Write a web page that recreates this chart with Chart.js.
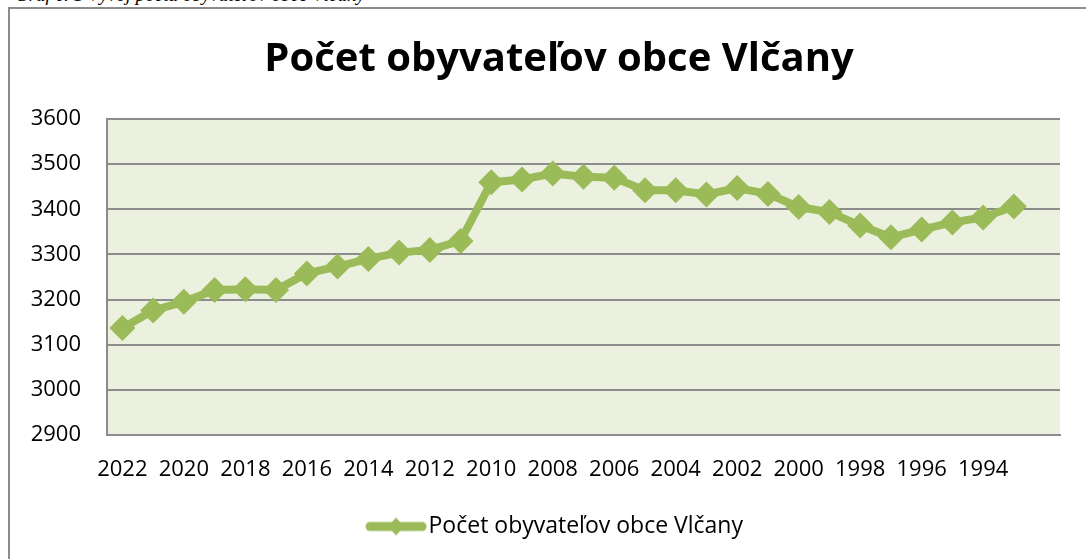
<!DOCTYPE html>
<html>
<head>
<meta charset="utf-8">
<script src="https://cdn.jsdelivr.net/npm/chart.js@4"></script>
<style>
  html, body { margin: 0; padding: 0; background: #fff; overflow: hidden; }
  #wrap { position: relative; width: 1086px; height: 559px; }
  #caption {
    position: absolute; left: 15px; top: -15px;
    font: italic 19px "Liberation Serif", serif; line-height: 19px;
    color: #000; white-space: nowrap;
  }
  canvas { position: absolute; left: 0; top: 0; }
</style>
</head>
<body>
<div id="wrap">
  <div id="caption">Graf č. 1 Vývoj počtu obyvateľov obce Vlčany</div>
  <canvas id="line-chart" width="1086" height="559"></canvas>
</div>
<script>
const years = ['2022', '2021', '2020', '2019', '2018', '2017', '2016', '2015', '2014', '2013',
  '2012', '2011', '2010', '2009', '2008', '2007', '2006', '2005', '2004', '2003',
  '2002', '2001', '2000', '1999', '1998', '1997', '1996', '1995', '1994', '1993', ''];
const population = [3137, 3176, 3195, 3221, 3223, 3221, 3258, 3273, 3290, 3304,
  3310, 3330, 3460, 3466, 3479, 3472, 3470, 3442, 3442, 3433,
  3447, 3434, 3405, 3394, 3364, 3338, 3355, 3371, 3382, 3406, null];
const yTicks = [2900, 3000, 3100, 3200, 3300, 3400, 3500, 3600];

const green = '#9BBB59';

// legend sample: line with diamond
const sample = document.createElement('canvas');
sample.width = 62;
sample.height = 20;
const sctx = sample.getContext('2d');
sctx.strokeStyle = green;
sctx.lineWidth = 9;
sctx.lineCap = 'round';
sctx.beginPath();
sctx.moveTo(5, 10);
sctx.lineTo(57, 10);
sctx.stroke();
sctx.fillStyle = green;
sctx.beginPath();
sctx.moveTo(31, 1);
sctx.lineTo(39, 10);
sctx.lineTo(31, 19);
sctx.lineTo(23, 10);
sctx.closePath();
sctx.fill();

const frameAndBackground = {
  id: 'frameAndBackground',
  afterLayout(chart) {
    // let the y labels spill into the left padding instead of being clipped
    chart.scales.y.left = 10;
  },
  beforeDraw(chart) {
    const ctx = chart.ctx;
    const a = chart.chartArea;
    ctx.save();
    ctx.strokeStyle = '#8c8c8c';
    ctx.lineWidth = 2;
    ctx.beginPath();
    ctx.moveTo(9, 559);
    ctx.lineTo(9, 8);
    ctx.lineTo(1086, 8);
    ctx.stroke();
    ctx.fillStyle = '#EBF1DE';
    ctx.fillRect(a.left, a.top, a.right - a.left, a.bottom - a.top);
    ctx.restore();
  }
};

const canvas = document.querySelector('#line-chart');
const lineChart = new Chart(canvas, {
  type: 'line',
  data: {
    labels: years,
    datasets: [{
      label: 'Počet obyvateľov obce Vlčany',
      data: population,
      borderColor: green,
      backgroundColor: green,
      borderWidth: 8,
      pointStyle: 'rectRot',
      pointRadius: 13,
      pointBorderWidth: 0,
      pointBackgroundColor: green,
      tension: 0
    }]
  },
  options: {
    responsive: false,
    animation: false,
    layout: {
      padding: { top: 10, left: 58, right: 26, bottom: 11 }
    },
    plugins: {
      title: {
        display: true,
        text: 'Počet obyvateľov obce Vlčany',
        color: '#000',
        font: { family: 'Open Sans', size: 40, weight: 'bold', lineHeight: 1.2 },
        padding: { top: 25.5, bottom: 35.5 }
      },
      legend: {
        position: 'bottom',
        labels: {
          usePointStyle: true,
          pointStyle: sample,
          pointStyleWidth: 42,
          color: '#000',
          font: { family: 'Open Sans', size: 23 },
          padding: 20
        }
      },
      tooltip: { enabled: false }
    },
    scales: {
      x: {
        offset: true,
        grid: { display: false, drawTicks: false },
        border: { display: true, color: '#8c8c8c', width: 2 },
        ticks: {
          autoSkip: false,
          maxRotation: 0,
          color: '#000',
          font: { family: 'Open Sans', size: 22 },
          padding: 22,
          callback: function (v, i) { return i % 2 === 0 ? years[i] : ''; }
        },
        afterFit: function (scale) { scale.height = 60; }
      },
      y: {
        min: 2900,
        max: 3600,
        afterBuildTicks: function (scale) {
          scale.ticks = yTicks.map(function (v) { return { value: v }; });
        },
        grid: { color: '#8c8c8c', lineWidth: 2, drawTicks: false },
        border: { display: true, color: '#8c8c8c', width: 2 },
        ticks: {
          color: '#000',
          font: { family: 'Open Sans', size: 22 },
          padding: 26,
          callback: function (v) { return String(v); }
        },
        afterFit: function (scale) { scale.width = 49; }
      }
    }
  },
  plugins: [frameAndBackground]
});
</script>
</body>
</html>
